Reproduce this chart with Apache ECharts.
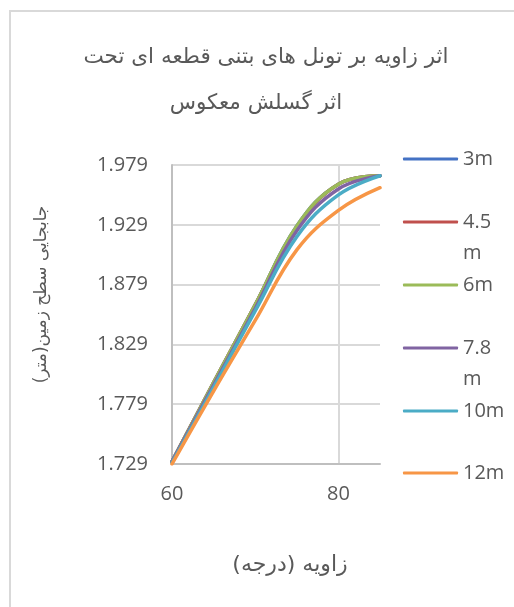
<!DOCTYPE html>
<html>
<head>
<meta charset="utf-8">
<script src="https://cdn.jsdelivr.net/npm/echarts@6/dist/echarts.min.js"></script>
<style>
  html, body { margin: 0; padding: 0; background: #ffffff; }
  #chart { width: 514px; height: 607px; }
</style>
</head>
<body>
<div id="chart"></div>
<script>
// Angle of the reverse fault (degrees) and ground-surface displacement (m) per tunnel segment length
const angles = [60, 65, 70, 75, 80, 85];
const seriesNames = ['3m', '4.5m', '6m', '7.8m', '10m', '12m'];
const legendLabels = ['3m', '4.5\nm', '6m', '7.8\nm', '10m', '12m'];
const disp3m   = [1.731, 1.797, 1.862, 1.928, 1.963, 1.970];
const disp4_5m = [1.731, 1.797, 1.862, 1.927, 1.963, 1.970];
const disp6m   = [1.731, 1.797, 1.862, 1.928, 1.963, 1.970];
const disp7_8m = [1.731, 1.795, 1.859, 1.924, 1.959, 1.970];
const disp10m  = [1.730, 1.793, 1.857, 1.919, 1.954, 1.970];
const disp12m  = [1.729, 1.790, 1.849, 1.908, 1.941, 1.960];
const yTicks = [1.729, 1.779, 1.829, 1.879, 1.929, 1.979];
const xTicks = [60, 80];

const titleLine1 = 'اثر زاویه بر تونل های بتنی قطعه ای تحت';
const titleLine2 = 'اثر گسلش معکوس';
const xName = 'زاویه (درجه)';
const yName = 'جابجایی سطح زمین(متر)';

const colors = ['#4472C4', '#C0504D', '#9BBB59', '#8064A2', '#4BACC6', '#F79646'];
const values = [disp3m, disp4_5m, disp6m, disp7_8m, disp10m, disp12m];

const textGray = '#595959';
const latinFont = '"Open Sans", "DejaVu Sans", sans-serif';
const arabicFont = '"DejaVu Sans", sans-serif';

// legend rows: symbol centre y for each entry
const legendCenters = [159, 222, 285, 348, 411, 473];
const legendLineH = 31;

const legends = seriesNames.map((name, i) => {
  const label = legendLabels[i];
  const wrapped = label.indexOf('\n') >= 0;
  // a blank first line keeps the symbol level with the first text line
  const text = wrapped ? '\n' + label : label;
  const h = wrapped ? legendLineH * 3 : legendLineH;
  return {
    orient: 'vertical',
    left: 403,
    top: legendCenters[i] - h / 2,
    padding: 0,
    icon: 'roundRect',
    itemWidth: 55,
    itemHeight: 3,
    itemGap: 0,
    data: [name],
    formatter: () => text,
    textStyle: { color: textGray, fontSize: 20, fontFamily: latinFont, lineHeight: legendLineH }
  };
});

const chart = echarts.init(document.getElementById('chart'), null, { renderer: 'canvas' });

chart.setOption({
  animation: false,
  backgroundColor: '#ffffff',
  color: colors,
  title: [
    {
      text: titleLine1, left: 266, top: 43, padding: 0, textAlign: 'center',
      textStyle: { color: textGray, fontSize: 21.5, fontWeight: 'normal', fontFamily: arabicFont, lineHeight: 28 }
    },
    {
      text: titleLine2, left: 256, top: 89, padding: 0, textAlign: 'center',
      textStyle: { color: textGray, fontSize: 21.5, fontWeight: 'normal', fontFamily: arabicFont, lineHeight: 28 }
    }
  ],
  legend: legends,
  graphic: [{
    type: 'rect',
    shape: { x: 10, y: 11, width: 520, height: 620 },
    style: { fill: 'none', stroke: '#d9d9d9', lineWidth: 2 },
    silent: true
  }],
  grid: { left: 172, right: 134, top: 165, bottom: 143, containLabel: false },
  xAxis: {
    type: 'value',
    min: 60,
    max: 85,
    interval: 20,
    name: xName,
    nameLocation: 'middle',
    nameGap: 90,
    nameTextStyle: { color: textGray, fontSize: 22, fontFamily: arabicFont, padding: [0, 0, 0, 28] },
    axisLine: { show: true, lineStyle: { color: '#bfbfbf', width: 2 } },
    axisTick: { show: false },
    axisLabel: {
      color: textGray, fontSize: 20, fontFamily: latinFont, margin: 20,
      showMaxLabel: false,
      formatter: v => (xTicks.indexOf(v) >= 0 ? String(v) : '')
    },
    splitLine: { show: true, showMinLine: false, showMaxLine: false, lineStyle: { color: '#d9d9d9', width: 2 } }
  },
  yAxis: {
    type: 'value',
    min: yTicks[0],
    max: yTicks[yTicks.length - 1],
    interval: 0.05,
    name: yName,
    nameLocation: 'middle',
    nameRotate: 90,
    nameGap: 122,
    nameTextStyle: { color: textGray, fontSize: 17, fontFamily: arabicFont, padding: [0, 0, 0, 40] },
    axisLine: { show: true, lineStyle: { color: '#bfbfbf', width: 2 } },
    axisTick: { show: false },
    axisLabel: {
      color: textGray, fontSize: 20, fontFamily: latinFont, margin: 24,
      formatter: v => v.toFixed(3)
    },
    splitLine: { show: true, lineStyle: { color: '#d9d9d9', width: 2 } }
  },
  series: seriesNames.map((name, i) => ({
    name: name,
    type: 'line',
    data: angles.map((a, j) => [a, values[i][j]]),
    smooth: 0.4,
    symbol: 'none',
    lineStyle: { width: 3.5, color: colors[i], cap: 'round' },
    itemStyle: { color: colors[i] }
  }))
});
</script>
</body>
</html>
